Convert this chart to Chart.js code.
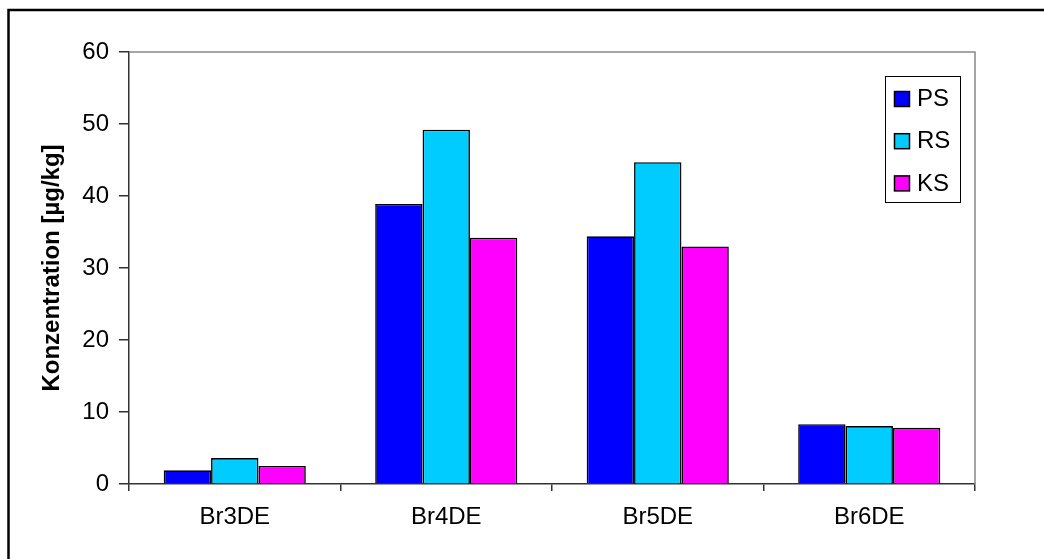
<!DOCTYPE html>
<html>
<head>
<meta charset="utf-8">
<script src="https://cdn.jsdelivr.net/npm/chart.js@4/dist/chart.umd.min.js"></script>
<style>
  html, body { margin: 0; padding: 0; background: #fff; }
  #wrap { width: 1044px; height: 559px; }
</style>
</head>
<body>
<div id="wrap"><canvas id="chart" width="1044" height="559"></canvas></div>
<script>
const categories = ["Br3DE", "Br4DE", "Br5DE", "Br6DE"];
const seriesNames = ["PS", "RS", "KS"];
const psValues = [1.9, 38.9, 34.4, 8.3];
const rsValues = [3.6, 49.2, 44.7, 8.05];
const ksValues = [2.5, 34.2, 33.0, 7.8];
const seriesColors = ["#0000ff", "#00ccff", "#ff00ff"];
const yTitle = "Konzentration [µg/kg]";

const FONT = "'Liberation Sans', Arial, sans-serif";

// frame of the sheet, gray plot border and the boxed legend
const decorations = {
    id: "decorations",
    afterDraw(chart) {
        const ctx = chart.ctx;
        const area = chart.chartArea;
        ctx.save();

        ctx.strokeStyle = "#000";
        ctx.lineWidth = 2.5;
        ctx.beginPath();
        ctx.moveTo(8.5, 600);
        ctx.lineTo(8.5, 10);
        ctx.lineTo(1100, 10);
        ctx.stroke();

        ctx.strokeStyle = "#888";
        ctx.lineWidth = 1.5;
        ctx.beginPath();
        ctx.moveTo(area.left, area.top);
        ctx.lineTo(area.right, area.top);
        ctx.lineTo(area.right, area.bottom);
        ctx.stroke();

        // legend
        const box = { x: 885.5, y: 76.5, w: 75, h: 126 };
        ctx.fillStyle = "#fff";
        ctx.fillRect(box.x, box.y, box.w, box.h);
        ctx.strokeStyle = "#000";
        ctx.lineWidth = 1;
        ctx.strokeRect(box.x, box.y, box.w, box.h);

        ctx.font = "24px " + FONT;
        ctx.textBaseline = "middle";
        chart.data.datasets.forEach((ds, i) => {
            const cy = 98.5 + i * 42.2;
            ctx.fillStyle = ds.backgroundColor;
            ctx.fillRect(894.5, cy - 7, 15, 15);
            ctx.strokeStyle = "#000";
            ctx.lineWidth = 1.5;
            ctx.strokeRect(894.5, cy - 7, 15, 15);
            ctx.fillStyle = "#000";
            ctx.fillText(ds.label, 917, cy + 1);
        });
        ctx.restore();
    }
};

new Chart(document.getElementById("chart"), {
    type: "bar",
    data: {
        labels: categories,
        datasets: [psValues, rsValues, ksValues].map((values, i) => ({
            label: seriesNames[i],
            data: values,
            backgroundColor: seriesColors[i],
            borderColor: "#000",
            borderWidth: 1.6,
            borderSkipped: "start",
            categoryPercentage: 0.672,
            barPercentage: 1.0
        }))
    },
    options: {
        responsive: false,
        animation: false,
        devicePixelRatio: 1,
        layout: { padding: { left: 0, top: 52, right: 69, bottom: 0 } },
        plugins: {
            legend: { display: false },
            tooltip: { enabled: false }
        },
        scales: {
            x: {
                afterFit: scale => { scale.height = 75; },
                grid: {
                    offset: true,
                    drawOnChartArea: false,
                    drawTicks: true,
                    tickLength: 7,
                    color: "#333",
                    lineWidth: 1.5
                },
                border: { color: "#333", width: 1.5 },
                ticks: {
                    color: "#000",
                    padding: 12,
                    font: { family: FONT, size: 24 }
                }
            },
            y: {
                min: 0,
                max: 60,
                afterFit: scale => { scale.width = 129; },
                grid: {
                    drawOnChartArea: false,
                    drawTicks: true,
                    tickLength: 10,
                    color: "#333",
                    lineWidth: 1.5
                },
                border: { color: "#333", width: 1.5 },
                ticks: {
                    stepSize: 10,
                    color: "#000",
                    padding: 10,
                    font: { family: FONT, size: 24 }
                },
                title: {
                    display: true,
                    text: yTitle,
                    color: "#000",
                    padding: { top: 38, bottom: 0 },
                    font: { family: FONT, size: 24, weight: "bold" }
                }
            }
        }
    },
    plugins: [decorations]
});
</script>
</body>
</html>
